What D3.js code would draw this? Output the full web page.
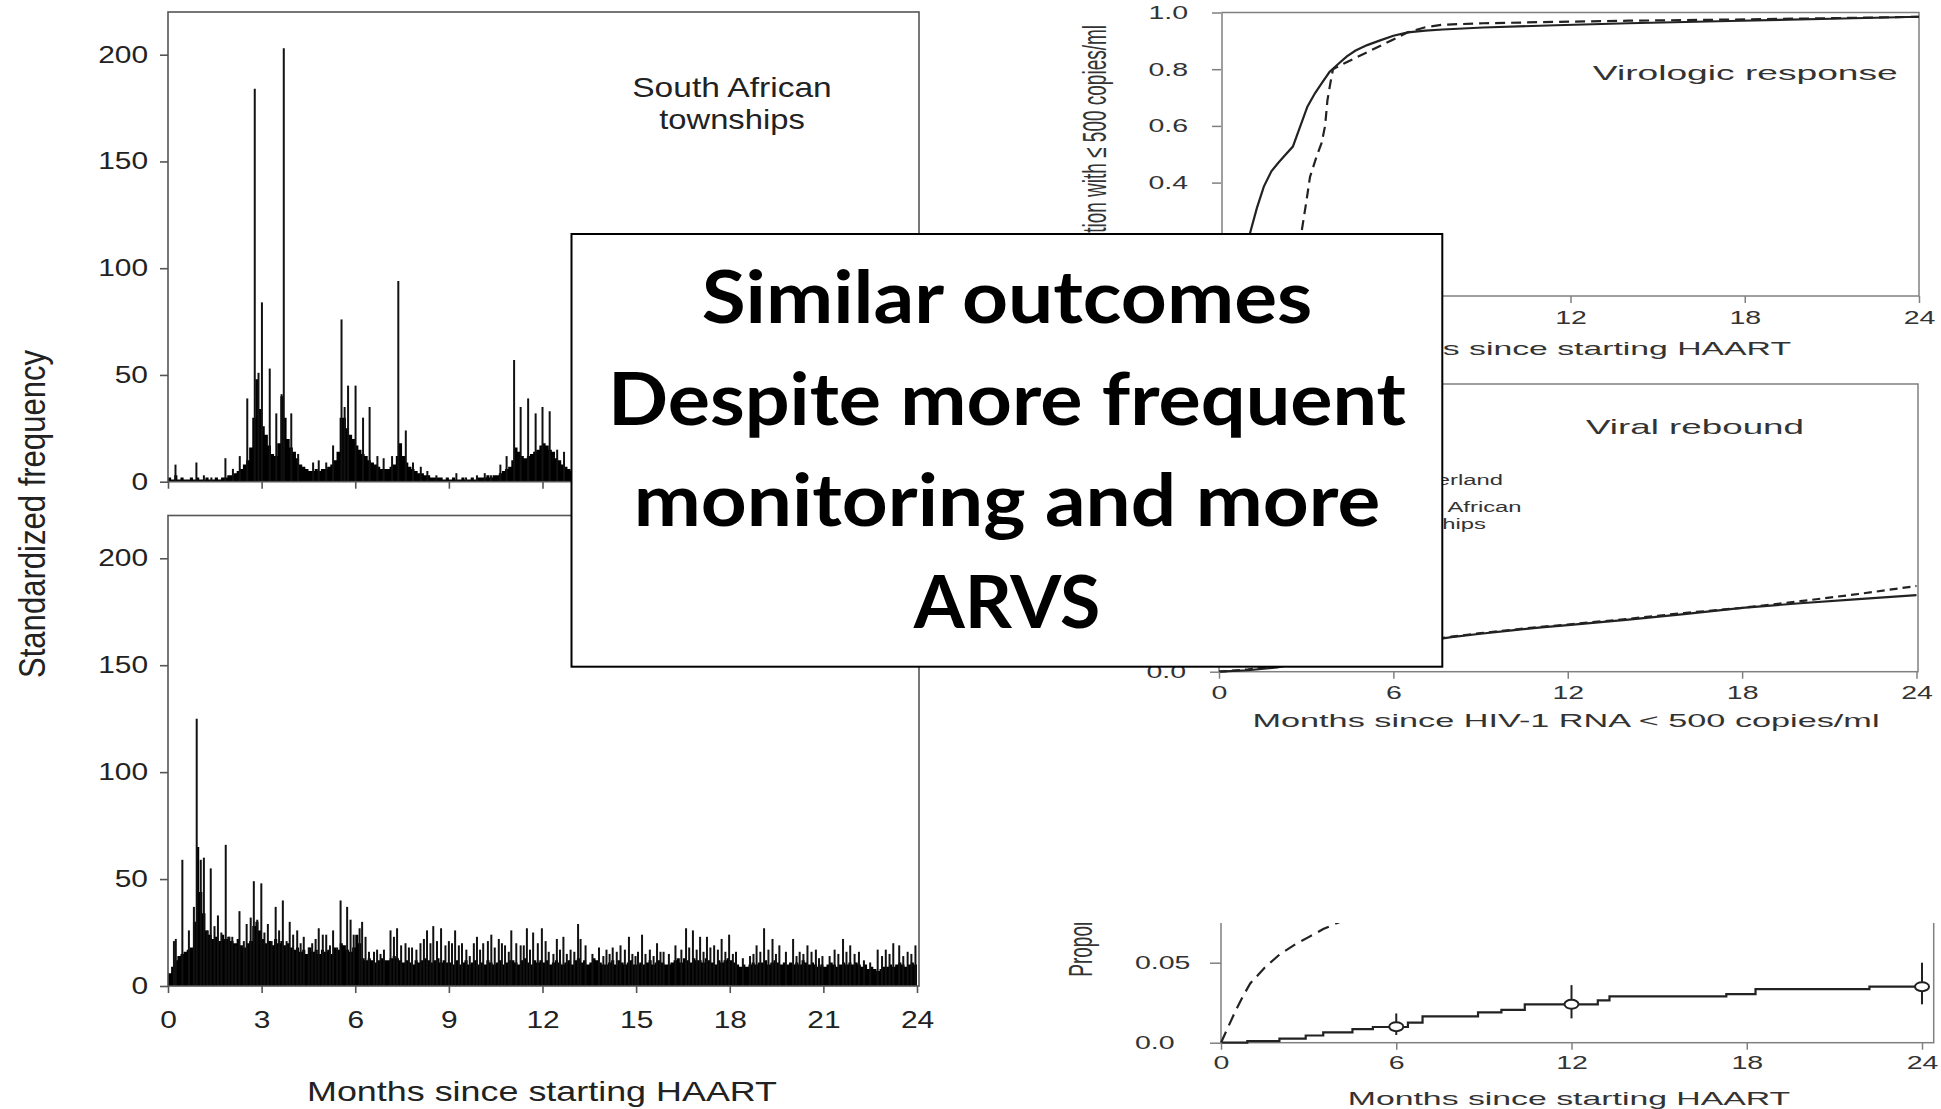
<!DOCTYPE html>
<html><head><meta charset="utf-8">
<script src="https://cdn.jsdelivr.net/npm/d3@7"></script>
<style>body{margin:0;background:#fff}svg{display:block}</style>
</head><body>
<svg id="c" width="1941" height="1109"></svg>
<script>
// ---------------- DATA ----------------
const monthTicks = [0,3,6,9,12,15,18,21,24];
const freqTicks = [0,50,100,150,200];
const binMonths = 0.1;
// South African townships: standardized frequency per 0.1-month bin (solid mass)
const saBase = [
2,1,3,1,2,1,1,2,1,2, 1,1,2,1,1,2,1,2,2,3, 3,4,5,6,8,10,16,30,48,34, 26,22,17,13,12,18,40,30,20,16,
14,11,8,7,6,5,5,6,5,6, 6,7,8,10,14,30,30,25,22,20, 17,15,13,12,10,9,8,7,6,6, 6,7,8,12,18,12,9,7,6,5,
4,4,3,3,2,2,2,2,1,2, 1,2,1,1,2,1,1,2,1,2, 2,2,3,2,3,3,4,5,6,7, 10,16,14,12,11,12,13,14,15,17,
18,17,15,14,11,10,8,7,6,5, 4,4,3,3,3,3,3,4,5,6, 8,10,12,12,11,10,9,9,8,7, 6,6,5,4,4,3,3,3,3,4,
4,5,6,7,8,9,10,9,8,7, 6,5,5,4,4,5,6,7,8,9, 10,9,8,7,6,5,5,4,4,4, 3,3,3,3,4,4,5,6,7,8,
9,10,9,8,7,6,5,5,4,4, 4,4,5,6,7,8,8,7,6,5, 5,4,4,3,3,3,4,4,5,6, 7,8,9,9,8,7,6,5,5,4];
// South African townships: isolated tall days [month, value]
const saSpikes = [[0.24,8],[0.91,9],[1.15,3],[1.39,2],[1.84,11],[2.08,6],[2.3,12],[2.54,39],[2.78,184],[2.9,51],
[3.01,84],[3.26,53],[3.47,32],[3.64,41],[3.71,203],[3.95,32],[4.17,13],[4.65,9],[4.83,10],[5.07,9],[5.29,17],
[5.56,76],[5.66,35],[5.77,45],[6.01,45],[6.25,30],[6.46,35],[6.71,12],[6.91,11],[7.18,12],[7.38,94],[7.62,24],
[7.85,9],[8.1,7],[8.31,5],[8.6,3],[9.24,4],[9.55,2],[9.9,3],[10.15,4],[10.35,3],[10.65,8],[10.85,12],[11.09,57],
[11.3,35],[11.54,39],[11.78,32],[12.0,35],[12.23,33],[12.47,15],[12.69,14],
[14.3,30],[14.6,38],[15.2,12],[16.6,28],[17.9,35],[18.2,25],[20.3,30],[21.5,22],[23.2,26],[23.9,15]];
// Switzerland: standardized frequency per 0.1-month bin (solid mass)
const swBase = [
6,9,12,14,15,16,17,18,30,65, 44,34,26,24,22,23,21,24,22,23, 21,20,22,19,18,20,21,28,30,26, 22,20,21,19,22,20,21,19,20,18,
17,18,16,17,15,18,16,17,15,17, 16,17,15,18,17,20,19,17,16,18, 24,20,13,12,13,12,11,12,13,12, 12,13,14,13,12,11,12,11,10,12,
11,12,13,12,11,12,13,11,12,11, 11,10,12,10,11,12,10,11,12,10, 11,10,12,11,10,11,12,10,11,12, 12,11,10,12,13,11,10,12,11,12,
11,12,10,11,12,11,10,11,12,10, 12,13,11,12,10,11,13,12,11,10, 10,11,12,10,12,11,10,11,12,10, 10,11,10,11,12,10,11,12,11,10,
10,11,12,13,11,13,12,11,13,12, 12,11,13,12,11,10,12,11,12,13, 12,11,10,9,10,9,10,11,10,11, 11,12,10,11,12,11,10,11,10,11,
10,11,10,12,11,10,11,10,9,10, 9,10,11,10,9,10,11,10,11,10, 11,10,9,10,8,9,8,7,8,9, 9,10,9,10,11,10,9,10,11,10];
// Switzerland: isolated tall days [month, value]
const swSpikes = [[0.19,21],[0.25,22],[0.46,59],[0.67,26],[0.83,37],[0.92,125],[1.05,59],[1.15,60],[1.26,26],[1.37,55],
[1.49,28],[1.6,33],[1.71,25],[1.85,66],[1.95,23],[2.06,23],[2.17,19],[2.29,35],[2.43,21],[2.52,29],[2.65,32],[2.75,49],
[2.86,31],[2.99,48],[3.09,25],[3.2,29],[3.32,21],[3.45,37],[3.56,26],[3.68,40],[3.8,21],[3.9,30],[4.01,24],[4.14,26],
[4.25,20],[4.35,23],[4.51,18],[4.62,20],[4.73,22],[4.83,27],[4.96,24],[5.07,24],[5.19,19],[5.29,26],[5.42,18],[5.53,40],
[5.74,37],[5.85,31],[5.95,24],[6.14,27],[6.22,30],[6.33,23],[6.44,16],[6.6,16],[6.7,17],[6.81,15],[6.92,17],[7.13,26],
[7.24,23],[7.34,27],[7.47,19],[7.61,20],[7.72,18],[7.82,18],[7.96,17],[8.09,20],[8.2,22],[8.3,26],[8.41,20],[8.5,28],
[8.62,21],[8.75,27],[8.89,19],[9.0,21],[9.1,20],[9.2,26],[9.32,19],[9.42,20],[9.56,17],[9.67,14],[9.8,20],[9.9,23],
[10.0,17],[10.1,20],[10.25,21],[10.36,24],[10.47,18],[10.6,22],[10.7,20],[10.8,19],[10.92,16],[11.0,26],[11.16,20],
[11.3,19],[11.4,19],[11.5,27],[11.6,17],[11.7,25],[11.85,20],[11.98,27],[12.1,21],[12.2,16],[12.35,15],[12.46,22],
[12.56,17],[12.67,23],[12.78,15],[12.9,17],[13.02,16],[13.14,29],[13.22,22],[13.38,19],[13.6,15],[13.81,18],[13.95,14],
[14.05,17],[14.15,15],[14.25,18],[14.38,16],[14.5,19],[14.64,17],[14.77,23],[14.88,15],[14.98,14],[15.06,16],[15.19,24],
[15.3,15],[15.44,17],[15.56,14],[15.67,20],[15.78,16],[15.88,16],[16.05,15],[16.26,19],[16.45,17],[16.6,27],[16.7,18],
[16.82,26],[16.94,17],[17.05,23],[17.16,16],[17.27,23],[17.38,18],[17.5,19],[17.62,17],[17.74,22],[17.86,16],[17.98,24],
[18.1,15],[18.2,16],[18.42,13],[18.65,14],[18.76,15],[18.86,19],[18.98,16],[19.1,27],[19.24,17],[19.37,22],[19.48,15],
[19.59,19],[19.8,16],[20.03,22],[20.14,14],[20.24,16],[20.36,15],[20.49,19],[20.62,16],[20.76,17],[20.86,13],[20.97,14],
[21.2,14],[21.36,17],[21.48,15],[21.63,22],[21.74,16],[21.86,19],[22.0,15],[22.14,16],[22.3,12],[22.5,11],[22.74,17],
[22.88,14],[23.0,17],[23.12,15],[23.24,20],[23.43,19],[23.56,14],[23.7,16],[23.82,15],[23.95,19]];

// Virologic response (proportion with <=500 copies/ml)
const vrVisibleTicks = [0.4,0.6,0.8,1.0];
const rightMonthTicks = [0,6,12,18,24];
const vrMonthTicks = [12,18,24];
const vrSwissMonths = [0,0.3,0.5,0.7,0.85,0.96,1.2,1.44,1.7,1.94,2.2,2.44,2.7,2.94,3.2,3.43,3.7,4.02,4.3,4.6,5.0,5.4,5.9,6.4,7.0,7.6,9,11.5,14,17.5,21,24];
const vrSwissProp   = [0,0,0.03,0.09,0.16,0.22,0.31,0.386,0.44,0.47,0.50,0.527,0.60,0.668,0.715,0.75,0.79,0.82,0.845,0.866,0.885,0.90,0.918,0.93,0.936,0.94,0.947,0.955,0.962,0.97,0.978,0.985];
const vrSAMonths = [0,1.8,2.2,2.5,2.73,2.9,3.03,3.25,3.43,3.55,3.63,3.73,3.82,4.2,4.6,5.1,5.6,6.0,6.4,7.0,7.6,9,11.5,14,17.5,21,24];
const vrSAProp   = [0,0,0.02,0.09,0.22,0.33,0.42,0.49,0.54,0.6,0.69,0.75,0.80,0.82,0.84,0.865,0.89,0.91,0.93,0.948,0.957,0.962,0.967,0.971,0.975,0.98,0.985];
// Viral rebound
const rbVisibleTicks = [0];
const rbMonths = [0,1,2,3,4,5,6,7,8,9,10,11,12,14,16,18,20,22,24];
const rbSwiss  = [0,0.005,0.015,0.035,0.055,0.075,0.09,0.105,0.12,0.132,0.143,0.153,0.162,0.18,0.2,0.222,0.238,0.252,0.266];
const rbSA     = [0,0.008,0.02,0.04,0.06,0.078,0.092,0.108,0.122,0.134,0.145,0.155,0.164,0.183,0.204,0.222,0.245,0.27,0.298];
// Bottom-right panel
const brTicks = [0,0.05];
const brStepMonths = [0,0.9,2.0,2.9,3.5,4.5,5.2,6.4,6.9,8.8,9.6,10.4,12.9,13.3,17.3,18.3,22.2,24];
const brStepProp   = [0,0.001,0.0025,0.0045,0.0065,0.0085,0.0098,0.0125,0.0165,0.019,0.0205,0.024,0.0265,0.029,0.0304,0.0335,0.035,0.035];
const brCIMonths = [6,12,24];
const brCIEst = [0.01,0.024,0.035];
const brCILow = [0.0048,0.0152,0.024];
const brCIHigh = [0.0183,0.036,0.05];
const brDashMonths = [0,0.25,0.5,0.75,1.0,1.5,2.0,2.5,3.0,3.5,4.0,5.0,6.0];
const brDashProp   = [0,0.01,0.02,0.029,0.037,0.047,0.055,0.061,0.066,0.071,0.075,0.081,0.086];

const overlayLines = ["Similar outcomes","Despite more frequent","monitoring and more","ARVS"];

// ---------------- DRAW ----------------
const svg = d3.select('#c');
svg.append('rect').attr('width',1941).attr('height',1109).attr('fill','#fff');
const SANS = "'Liberation Sans', Arial, Helvetica, sans-serif";

function stretch(sel, k){
  sel.each(function(){
    const w = this.getComputedTextLength();
    d3.select(this).attr('textLength', w*k).attr('lengthAdjust','spacingAndGlyphs');
  });
}
function fit(sel, w){ sel.attr('textLength', w).attr('lengthAdjust','spacingAndGlyphs'); }

// ---- Left histograms ----
const xL = d3.scaleLinear([0,24],[168,917]);
const yTop = d3.scaleLinear([0,220],[481.7,12]);
const yBot = d3.scaleLinear([0,220],[986,515.5]);

function histPanel(base, spikes, y, labels){
  const g = svg.append('g');
  const pts = base.concat([base[base.length-1]]);
  const area = d3.area().x((d,i)=>xL(i*binMonths)).y0(y(0)).y1(d=>y(d)).curve(d3.curveStepAfter);
  g.append('path').datum(pts).attr('d',area).attr('fill','#000');
  g.selectAll(null).data(spikes).join('line')
    .attr('x1',d=>xL(d[0])).attr('x2',d=>xL(d[0]))
    .attr('y1',y(0)).attr('y2',d=>y(d[1]))
    .attr('stroke','#111').attr('stroke-width',2);
  g.append('rect').attr('x',xL(0)).attr('y',y.range()[1])
    .attr('width',xL(24)+2-xL(0)).attr('height',y.range()[0]-y.range()[1])
    .attr('fill','none').attr('stroke','#555').attr('stroke-width',1.6);
  const ay = g.append('g').attr('transform',`translate(${xL(0)},0)`)
    .call(d3.axisLeft(y).tickValues(freqTicks).tickSize(8).tickPadding(12).tickSizeOuter(0));
  const ax = g.append('g').attr('transform',`translate(0,${y(0)})`)
    .call(d3.axisBottom(xL).tickValues(monthTicks).tickSize(7).tickPadding(19).tickSizeOuter(0)
      .tickFormat(labels ? d3.format('d') : ()=>''));
  [ay,ax].forEach(a=>{
    a.select('.domain').remove();
    a.selectAll('.tick line').attr('stroke','#555').attr('stroke-width',1.6);
    a.attr('font-family',SANS).attr('font-size',23);
    a.selectAll('.tick text').attr('fill','#222');
    stretch(a.selectAll('.tick text'),1.3);
  });
  return g;
}
histPanel(saBase, saSpikes, yTop, false);
histPanel(swBase, swSpikes, yBot, true);

svg.append('text').attr('x',732).attr('y',96.5).attr('text-anchor','middle')
  .attr('font-family',SANS).attr('font-size',28).attr('fill','#222').text('South African').call(fit,199.5);
svg.append('text').attr('x',732).attr('y',129).attr('text-anchor','middle')
  .attr('font-family',SANS).attr('font-size',28).attr('fill','#222').text('townships').call(fit,145.5);
svg.append('text').attr('x',542).attr('y',1101).attr('text-anchor','middle')
  .attr('font-family',SANS).attr('font-size',28).attr('fill','#222').text('Months since starting HAART').call(fit,470);
svg.append('g').attr('transform','translate(45,514) scale(1.2,1) rotate(-90)')
  .append('text').attr('text-anchor','middle').attr('font-family',SANS).attr('font-size',30).attr('fill','#222')
  .text('Standardized frequency').call(fit,328);

// ---- Right panels ----
const RC = '#222', FR = '#808080';
function styleAxis(a, k){
  a.select('.domain').remove();
  a.selectAll('.tick line').attr('stroke',FR).attr('stroke-width',1.5);
  a.attr('font-family',SANS).attr('font-size',19);
  a.selectAll('.tick text').attr('fill','#333');
  stretch(a.selectAll('.tick text'),k);
}
function rtext(x,y,anchor,size,str,w){
  const t = svg.append('text').attr('x',x).attr('y',y).attr('text-anchor',anchor)
    .attr('font-family',SANS).attr('font-size',size).attr('fill','#333').text(str);
  if (w) t.call(fit,w); else stretch(t,1.7);
  return t;
}

// top-right: virologic response
const xR1 = d3.scaleLinear([0,24],[1222,1919]);
const yR1 = d3.scaleLinear([0,1],[296,12.5]);
const g1 = svg.append('g');
g1.append('rect').attr('x',xR1(0)).attr('y',yR1(1)).attr('width',xR1(24)-xR1(0)).attr('height',yR1(0)-yR1(1))
  .attr('fill','none').attr('stroke',FR).attr('stroke-width',1.5);
const line1 = d3.line().x(d=>xR1(d[0])).y(d=>yR1(d[1]));
g1.append('path').datum(d3.zip(vrSwissMonths,vrSwissProp)).attr('d',line1).attr('fill','none').attr('stroke',RC).attr('stroke-width',2.2);
g1.append('path').datum(d3.zip(vrSAMonths,vrSAProp)).attr('d',line1).attr('fill','none').attr('stroke',RC).attr('stroke-width',2.2).attr('stroke-dasharray','10,6');
styleAxis(g1.append('g').attr('transform',`translate(${xR1(0)-1},0)`)
  .call(d3.axisLeft(yR1).tickValues(vrVisibleTicks).tickFormat(d3.format('.1f')).tickSize(9).tickPadding(24).tickSizeOuter(0)),1.5);
styleAxis(g1.append('g').attr('transform',`translate(0,${yR1(0)})`)
  .call(d3.axisBottom(xR1).tickValues(vrMonthTicks).tickSize(7).tickPadding(8).tickSizeOuter(0)),1.5);
rtext(1592.8,80,'start',21,'Virologic response',305);
rtext(1570,355,'middle',19,'Months since starting HAART',442);
const defs = svg.append('defs');
defs.append('clipPath').attr('id','ylclip').append('rect')
  .attr('x',1000).attr('y',0).attr('width',200).attr('height',233);
svg.append('g').attr('clip-path','url(#ylclip)')
  .append('g').attr('transform','translate(1106,25) scale(1.7,1) rotate(-90)')
  .append('text').attr('text-anchor','end').attr('font-family',SANS).attr('font-size',19).attr('fill','#333')
  .text('Proportion with \u2264 500 copies/ml');

// middle-right: viral rebound
const xR2 = d3.scaleLinear([0,24],[1219,1916.5]);
const yR2 = d3.scaleLinear([0,1],[671.7,384]);
const g2 = svg.append('g');
g2.append('rect').attr('x',xR2(0)).attr('y',yR2(1)).attr('width',xR2(24)-xR2(0)+1.5).attr('height',yR2(0)-yR2(1))
  .attr('fill','none').attr('stroke',FR).attr('stroke-width',1.5);
const line2 = d3.line().x(d=>xR2(d[0])).y(d=>yR2(d[1]));
g2.append('path').datum(d3.zip(rbMonths,rbSwiss)).attr('d',line2).attr('fill','none').attr('stroke',RC).attr('stroke-width',2.2);
g2.append('path').datum(d3.zip(rbMonths,rbSA)).attr('d',line2).attr('fill','none').attr('stroke',RC).attr('stroke-width',2.2).attr('stroke-dasharray','8,5');
styleAxis(g2.append('g').attr('transform',`translate(${xR2(0)},0)`)
  .call(d3.axisLeft(yR2).tickValues(rbVisibleTicks).tickFormat(d3.format('.1f')).tickSize(9).tickPadding(24).tickSizeOuter(0)),1.5);
styleAxis(g2.append('g').attr('transform',`translate(0,${yR2(0)})`)
  .call(d3.axisBottom(xR2).tickValues(rightMonthTicks).tickSize(7).tickPadding(7).tickSizeOuter(0)),1.5);
rtext(1586,434,'start',21,'Viral rebound',218);
rtext(1380,485,'start',14,'Switzerland');
rtext(1380,512,'start',14,'South African');
rtext(1380,529,'start',14,'townships');
rtext(1566,727,'middle',19,'Months since HIV-1 RNA < 500 copies/ml',627);

// bottom-right
const xR3 = d3.scaleLinear([0,24.4],[1221,1933.7]);
const yR3 = d3.scaleLinear([0,0.075],[1042.7,922.7]);
defs.append('clipPath').attr('id','brclip').append('rect')
  .attr('x',0).attr('y',923).attr('width',1941).attr('height',186);
const g3 = svg.append('g').attr('clip-path','url(#brclip)');
g3.append('rect').attr('x',xR3(0)).attr('y',yR3(0.075)-5).attr('width',xR3(24.4)-xR3(0)).attr('height',yR3(0)-yR3(0.075)+5)
  .attr('fill','none').attr('stroke',FR).attr('stroke-width',1.5);
const line3 = d3.line().x(d=>xR3(d[0])).y(d=>yR3(d[1]));
g3.append('path').datum(d3.zip(brDashMonths,brDashProp)).attr('d',line3).attr('fill','none')
  .attr('stroke',RC).attr('stroke-width',2.2).attr('stroke-dasharray','12,7');
g3.append('path').datum(d3.zip(brStepMonths,brStepProp)).attr('d',d3.line().x(d=>xR3(d[0])).y(d=>yR3(d[1])).curve(d3.curveStepAfter))
  .attr('fill','none').attr('stroke',RC).attr('stroke-width',2.2);
g3.selectAll(null).data(d3.range(brCIMonths.length)).join('line')
  .attr('x1',i=>xR3(brCIMonths[i])).attr('x2',i=>xR3(brCIMonths[i]))
  .attr('y1',i=>yR3(brCILow[i])).attr('y2',i=>yR3(brCIHigh[i]))
  .attr('stroke',RC).attr('stroke-width',2);
g3.selectAll(null).data(d3.range(brCIMonths.length)).join('ellipse')
  .attr('cx',i=>xR3(brCIMonths[i])).attr('cy',i=>yR3(brCIEst[i])).attr('rx',7).attr('ry',4.5)
  .attr('fill','#fff').attr('stroke',RC).attr('stroke-width',2);
const a3y = g3.append('g').attr('transform',`translate(${xR3(0)},0)`)
  .call(d3.axisLeft(yR3).tickValues(brTicks).tickFormat(d=>d===0?'0.0':'0.05').tickSize(11).tickPadding(20).tickSizeOuter(0));
styleAxis(a3y,1.5);
a3y.selectAll('.tick text').attr('text-anchor','start').attr('x',1135-xR3(0));
styleAxis(g3.append('g').attr('transform',`translate(0,${yR3(0)})`)
  .call(d3.axisBottom(xR3).tickValues(rightMonthTicks).tickSize(7).tickPadding(6).tickSizeOuter(0)),1.5);
g3.append('g').attr('transform','translate(1092,976.7) scale(1.7,1) rotate(-90)')
  .append('text').attr('text-anchor','start').attr('font-family',SANS).attr('font-size',19).attr('fill','#333')
  .text('Proportion');
rtext(1569,1105,'middle',19,'Months since starting HAART',442.5);

// ---- overlay box ----
const bx = svg.append('g');
bx.append('rect').attr('x',571.5).attr('y',234).attr('width',870.8).attr('height',432.7)
  .attr('fill','#fff').attr('stroke','#000').attr('stroke-width',2);
const lineBase = [323,425,526,628], lineW = [610.6,798,746.4,186.6];
bx.selectAll(null).data(overlayLines).join('text')
  .attr('x',1007).attr('y',(d,i)=>lineBase[i]).attr('text-anchor','middle')
  .attr('font-family',"Lato, 'Open Sans', sans-serif").attr('font-weight',700).attr('font-size',72).attr('fill','#000')
  .text(d=>d).each(function(d,i){ d3.select(this).attr('textLength',lineW[i]).attr('lengthAdjust','spacingAndGlyphs'); });
</script>
</body></html>
